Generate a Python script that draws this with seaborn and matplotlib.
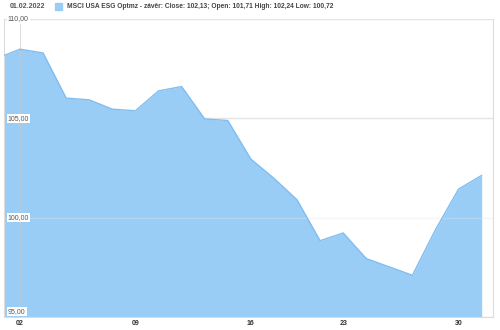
import matplotlib
matplotlib.use("Agg")
import matplotlib.pyplot as plt
import seaborn as sns
import pandas as pd

# --- data (trading days 31.12.2021 .. 01.02.2022) ---
dates = ["31.12", "03.01", "04.01", "05.01", "06.01", "07.01", "10.01", "11.01",
         "12.01", "13.01", "14.01", "18.01", "19.01", "20.01", "21.01", "24.01",
         "25.01", "26.01", "27.01", "28.01", "31.01", "01.02"]
close = [108.02, 108.48, 108.29, 106.02, 105.93, 105.46, 105.38, 106.38,
         106.60, 104.97, 104.89, 102.95, 101.98, 100.90, 98.84, 99.23,
         97.94, 97.52, 97.10, 99.40, 101.44, 102.13]
xtick_dates = ["03.01", "10.01", "18.01", "24.01", "31.01"]
xtick_labels = ["02", "09", "16", "23", "30"]
ytick_values = [95, 100, 105, 110]
ytick_labels = ["95,00", "100,00", "105,00", "110,00"]
header_date = "01.02.2022"
legend_text = "MSCI USA ESG Optmz - závěr: Close: 102,13; Open: 101,71 High: 102,24 Low: 100,72"

df = pd.DataFrame({"date": dates, "close": close})
df["idx"] = range(len(df))

sns.set_theme(style="white")
plt.rcParams["font.family"] = ["Liberation Sans", "DejaVu Sans"]

fig = plt.figure(figsize=(5.0, 3.3), dpi=100)
ax = fig.add_axes([4 / 500, 1 - 317 / 330, 489 / 500, 298 / 330])

fill_c = "#99cdf6"
line_c = "#80bdf0"
grid_c = "#e4e4e4"

ax.fill_between(df["idx"], 95, df["close"], color=fill_c, linewidth=0, zorder=2)
sns.lineplot(data=df, x="idx", y="close", ax=ax, color=line_c, linewidth=1.0, zorder=3)

ax.set_xlim(0.308, 21.49)
ax.set_ylim(95, 110)

# grid lines
for v in ytick_values:
    ax.axhline(v, color=grid_c, linewidth=1.0, zorder=1 if v != 100 else 2.5,
               alpha=1.0 if v != 100 else 0.35)
pos = {d: i for i, d in enumerate(dates)}
ax.axvline(pos[xtick_dates[0]], color="#c8c8c8", linewidth=0.8, zorder=2.5, alpha=0.6)

ax.set_xticks([pos[d] for d in xtick_dates])
ax.set_xticklabels(xtick_labels, fontsize=5, fontweight="bold", color="#333333")
ax.tick_params(axis="x", length=0, pad=2)
ax.set_yticks([])
ax.set_xlabel("")
ax.set_ylabel("")

for s in ["left", "bottom", "right"]:
    ax.spines[s].set_visible(True)
    ax.spines[s].set_color("#dcdcdc")
    ax.spines[s].set_linewidth(0.8)
ax.spines["top"].set_visible(False)

for v, lab in zip(ytick_values, ytick_labels):
    ax.text(0.008, v + (0.12 if v == 95 else 0), lab, transform=ax.get_yaxis_transform(),
            fontsize=5, color="#555555", ha="left",
            va="bottom" if v == 95 else "center", zorder=5,
            bbox=dict(boxstyle="square,pad=0.15", fc="white", ec="none"))

# header / legend
fig.text(10 / 500, 1 - 6.5 / 330, header_date, fontsize=5, fontweight="bold",
         color="#555555", ha="left", va="center")
fig.patches.append(plt.Rectangle((55 / 500, 1 - 10 / 330), 7 / 500, 7 / 330,
                                 transform=fig.transFigure, color=fill_c, figure=fig))
fig.text(67 / 500, 1 - 6.5 / 330, legend_text, fontsize=4.8, fontweight="bold",
         color="#444444", ha="left", va="center")

fig.savefig("out.png", dpi=100)
